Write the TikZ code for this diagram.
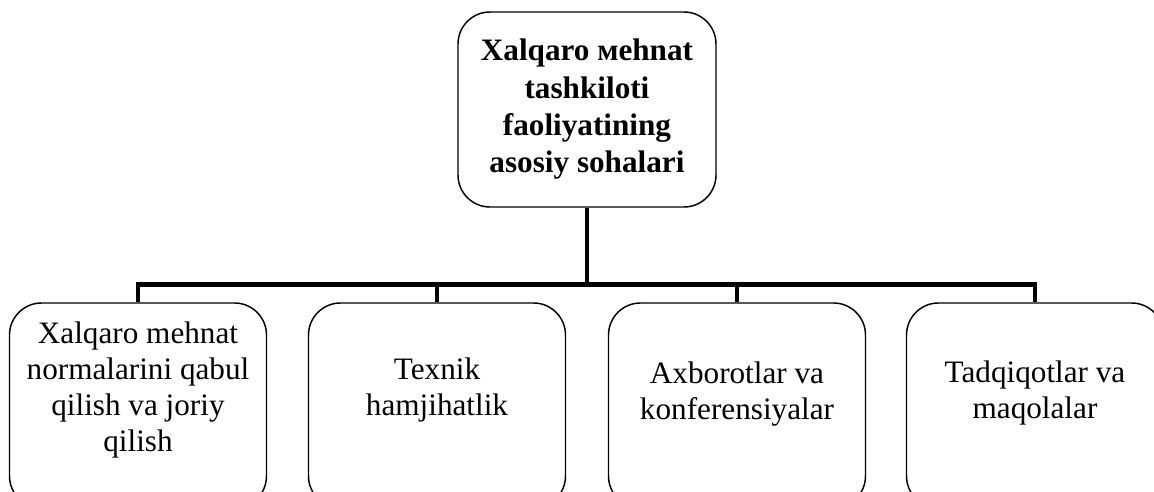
\documentclass[tikz,border=0pt]{standalone}
\usepackage{fontspec}
\setmainfont{Liberation Serif}
\usepackage{tikz}
\tikzset{every picture/.style={line width=0.75pt}}
\tikzset{
  rbox/.style={draw, rounded corners=24pt, line width=1.1pt, minimum width=192.75pt, inner sep=0pt},
  link/.style={line width=3.4pt},
  txt/.style={align=center, inner sep=0.75pt, font=\fontsize{23.4}{27}\selectfont},
}

\begin{document}
\begin{tikzpicture}[x=0.75pt,y=0.75pt,yscale=-1,xscale=1]
\useasboundingbox (0,0) rectangle (1154,492);
\clip (0,0) rectangle (1154,492);

%Rounded Rect [id:head]
\node [rbox, txt, minimum width=193.5pt, minimum height=146.25pt, font=\bfseries\fontsize{23.4}{28}\selectfont] (head) at (587,109.5) {Xalqaro мehnat\\tashkiloti\\faoliyatining\\asosiy sohalari};

%Rounded Rect [id:sec1]
\node [rbox, minimum height=153.75pt] (sec1) at (138,405.5) {};
%Rounded Rect [id:sec2]
\node [rbox, minimum height=153.75pt] (sec2) at (437,405.5) {};
%Rounded Rect [id:sec3]
\node [rbox, minimum height=153.75pt] (sec3) at (737,405.5) {};
%Rounded Rect [id:sec4]
\node [rbox, minimum height=153.75pt] (sec4) at (1035,405.5) {};

%Straight Lines [id:trunk]
\draw [link] (head.south) -- ++(0,77) coordinate (hub);
%Straight Lines [id:bus]
\draw [link] (sec1.north) |- (hub) -| (sec4.north);
%Straight Lines [id:drop2]
\draw [link] (sec2.north) -- (sec2.north |- hub);
%Straight Lines [id:drop3]
\draw [link] (sec3.north) -- (sec3.north |- hub);

% Text Node
\node [txt] (lab1) at (138,390) {Xalqaro mehnat\\normalarini qabul\\qilish va joriy\\qilish};
% Text Node
\node [txt] (lab2) at (437,390) {Texnik\\hamjihatlik};
% Text Node
\node [txt] (lab3) at (737,394) {Axborotlar va\\konferensiyalar};
% Text Node
\node [txt] (lab4) at (1035,393) {Tadqiqotlar va\\maqolalar};
\end{tikzpicture}
\end{document}
